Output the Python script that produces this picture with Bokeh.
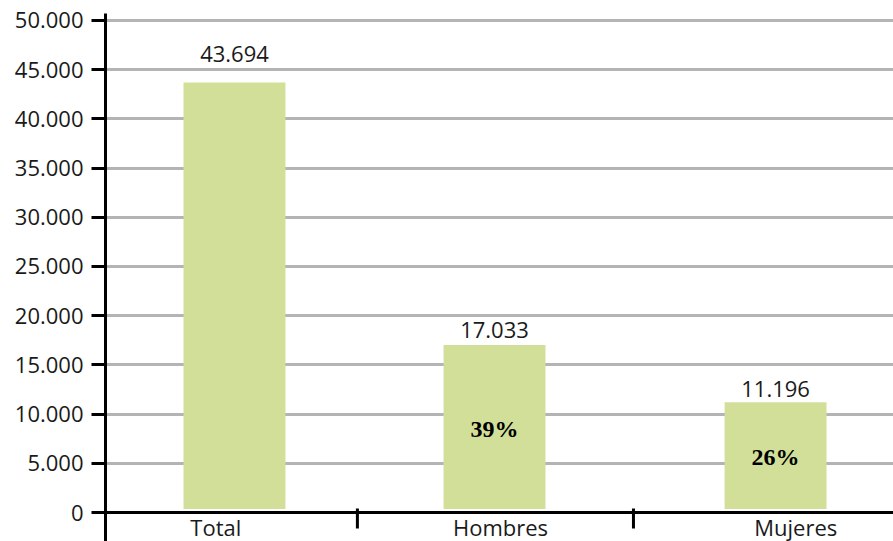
from bokeh.plotting import figure
from bokeh.models import Range1d, FixedTicker, Span, ColumnDataSource
from bokeh.embed import file_html
from bokeh.resources import INLINE
from bokeh.core.properties import value

# ---- data ----
categories = ["Total", "Hombres", "Mujeres"]
counts = [43694, 17033, 11196]
y_ticks = list(range(0, 50001, 5000))

# ---- layout / style constants ----
BAR_X = [0.491, 1.481, 2.551]      # bar centres (x units, one unit per category slot)
LABEL_X = [0.420, 1.504, 2.628]    # category label centres
SEPARATORS = [0.959, 2.010]        # category separator ticks
BAR_WIDTH = 0.388
BAR_BASE = 350
VALUE_OFFSETS = [-29, -15, -13]    # px above bar top
LABEL_Y = -1423                    # category label baseline (below the zero line)
FONT = "Open Sans"
BAR_COLOR = "#d1df99"
GRID_COLOR = "#b4b4b4"
TEXT_COLOR = "#1a1a1a"

def fmt(v):
    return f"{v:,}".replace(",", ".")

p = figure(width=893, height=541, output_backend="svg", toolbar_location=None,
           x_range=Range1d(0, 3), y_range=Range1d(-2947, 50711),
           x_axis_location=None, min_border_left=105, min_border_right=0,
           min_border_top=13, min_border_bottom=0)
p.outline_line_color = None
p.background_fill_color = "white"
p.border_fill_color = "white"

# y axis
yax = p.yaxis[0]
yax.ticker = FixedTicker(ticks=y_ticks)
yax.major_label_overrides = {t: fmt(t) for t in y_ticks}
yax.axis_line_width = 3
yax.axis_line_color = "black"
yax.major_tick_line_width = 3
yax.major_tick_line_color = "black"
yax.major_tick_out = 14
yax.major_tick_in = 0
yax.minor_tick_line_color = None
yax.major_label_standoff = 8
yax.major_label_text_font = FONT
yax.major_label_text_font_size = "22px"
yax.major_label_text_color = TEXT_COLOR

p.xgrid.visible = False
p.ygrid.ticker = FixedTicker(ticks=y_ticks[1:])
p.ygrid.grid_line_color = GRID_COLOR
p.ygrid.grid_line_width = 3

# bars
src = ColumnDataSource(dict(
    x=BAR_X, top=counts, base=[BAR_BASE] * len(counts),
    label=[fmt(v) for v in counts], yoff=VALUE_OFFSETS,
))
p.vbar(x="x", top="top", bottom="base", width=BAR_WIDTH, source=src,
       fill_color=BAR_COLOR, line_color=None)

# value labels
p.text(x="x", y="top", text="label", y_offset="yoff", source=src,
       text_align="center", text_baseline="alphabetic",
       text_font=value(FONT), text_font_size="22px", text_color=TEXT_COLOR)

# percentages relative to total
total = counts[0]
pct_src = ColumnDataSource(dict(
    x=BAR_X[1:], y=[v / 2 for v in counts[1:]],
    t=[f"{round(v / total * 100)}%" for v in counts[1:]],
))
p.text(x="x", y="y", text="t", source=pct_src, text_align="center",
       text_baseline="middle", text_font=value("Liberation Serif"),
       text_font_style="bold", text_font_size="24px", text_color="black")

# x axis line at zero
p.add_layout(Span(location=0, dimension="width", line_color="black", line_width=3))

# separator ticks
p.segment(x0=SEPARATORS, x1=SEPARATORS, y0=[406] * len(SEPARATORS),
          y1=[-1626] * len(SEPARATORS), line_color="black", line_width=3)

# category labels
p.text(x=LABEL_X, y=[LABEL_Y] * len(categories), text=categories,
       text_align="center", text_baseline="alphabetic",
       text_font=value(FONT), text_font_size="22px", text_color=TEXT_COLOR)

open("out.html", "w").write(file_html(p, INLINE))
